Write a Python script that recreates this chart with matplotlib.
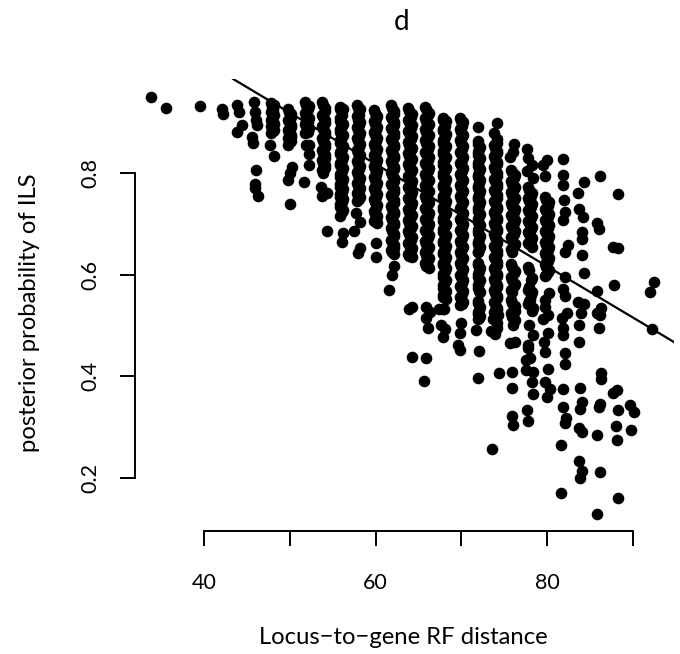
import matplotlib
matplotlib.use('Agg')
import matplotlib.pyplot as plt

# dense vertical strips (RF distance is even, points are slightly jittered)
strip_x = [47.8, 48.2, 49.8, 50.1, 51.8, 52.2, 53.8, 54.1,
           55.8, 56.2, 57.8, 58.2, 59.8, 60.2, 61.8, 62.2,
           63.8, 64.2, 65.8, 66.2, 67.8, 68.2, 69.8, 70.2,
           71.9, 72.2, 73.8, 74.2, 75.8, 76.2, 77.8, 78.2, 79.8, 80.2,
           47.9, 48.1, 49.9, 50.1, 51.9, 52.1, 53.9, 54.1,
           55.9, 56.1, 57.9, 58.1, 59.9, 60.1, 61.9, 62.1,
           63.9, 64.1, 65.9, 66.1, 67.9, 68.1, 69.9, 70.1,
           71.9, 72.1, 73.9, 74.1, 75.9, 76.1, 77.9, 78.1, 79.9, 80.1]
strip_y = [
    [.938, .921, .905, .892, .879],
    [.934, .914, .897, .885],
    [.926, .905, .884, .868, .856],
    [.916, .895, .875, .862],
    [.939, .918, .897, .879],
    [.932, .908, .888, .855, .838, .816],
    [.940, .915, .892, .868, .846, .825, .805],
    [.928, .904, .880, .857, .835, .815],
    [.930, .908, .886, .864, .842, .820, .798, .778, .758, .738, .716],
    [.926, .897, .875, .853, .831, .809, .788, .768, .748, .728],
    [.933, .912, .890, .868, .846, .824, .802, .780, .760, .745],
    [.926, .901, .879, .857, .835, .813, .791, .770, .752],
    [.924, .902, .880, .858, .836, .814, .792, .770, .748, .726, .706],
    [.913, .891, .869, .847, .825, .803, .781, .759, .737, .716, .702],
    [.933, .911, .889, .867, .845, .823, .801, .779, .757, .735, .713, .691, .669, .648],
    [.922, .900, .878, .856, .834, .812, .790, .768, .746, .724, .702, .680, .658, .640],
    [.927, .905, .883, .861, .839, .817, .795, .773, .751, .729, .707, .685, .663, .641],
    [.916, .894, .872, .850, .828, .806, .784, .762, .740, .718, .696, .674, .652, .634],
    [.930, .908, .886, .864, .842, .820, .798, .776, .754, .732, .710, .688, .666, .644, .622],
    [.919, .897, .875, .853, .831, .809, .787, .765, .743, .721, .699, .677, .655, .633, .612],
    [.909, .887, .865, .843, .821, .799, .777, .755, .733, .711, .689, .667, .645, .623, .601, .579, .560],
    [.903, .876, .854, .832, .810, .788, .766, .744, .722, .700, .678, .656, .634, .612, .590, .568, .551],
    [.908, .886, .864, .842, .820, .798, .776, .754, .732, .710, .688, .666, .644, .622, .600, .578, .556, .540],
    [.900, .875, .853, .831, .809, .787, .765, .743, .721, .699, .677, .655, .633, .611, .589, .567, .546],
    [.891, .863, .841, .819, .797, .775, .753, .731, .709, .687, .665, .644, .622, .601, .579, .549, .527, .512],
    [.852, .830, .808, .786, .764, .742, .720, .698, .676, .654, .612, .590, .566, .536, .518],
    [.878, .855, .833, .811, .789, .767, .745, .723, .701, .679, .657, .635, .613, .591, .569, .547, .526],
    [.898, .866, .844, .822, .800, .778, .756, .734, .712, .690, .668, .646, .624, .602, .580, .558, .535],
    [.806, .784, .762, .740, .718, .696, .674, .650, .620, .595, .570, .550, .525],
    [.796, .773, .751, .729, .707, .685, .661, .608, .582, .539, .510],
    [.772, .750, .728, .706, .684, .662, .615, .570, .543],
    [.760, .738, .716, .694, .672, .655, .593, .566, .528],
    [.752, .730, .708, .686, .664, .642, .620, .597, .550, .537],
    [.742, .720, .698, .676, .654, .632, .610, .563],
    [.930, .908, .887],
    [.924, .903, .882],
    [.921, .900, .879, .860],
    [.911, .890, .870],
    [.934, .912, .892],
    [.925, .901, .880],
    [.934, .910, .886, .862, .840, .820, .800],
    [.922, .898, .874, .851, .830, .810],
    [.925, .903, .881, .859, .837, .815, .793, .773, .753, .733],
    [.914, .892, .870, .848, .826, .804, .783, .763, .743, .723],
    [.927, .905, .884, .862, .840, .818, .796, .775, .755],
    [.914, .895, .873, .851, .829, .807, .785, .765, .748],
    [.918, .896, .874, .852, .830, .808, .786, .764, .742, .720],
    [.907, .885, .863, .841, .819, .797, .775, .753, .731, .710],
    [.928, .906, .884, .862, .840, .818, .796, .774, .752, .730, .708, .686, .664, .645],
    [.917, .895, .873, .851, .829, .807, .785, .763, .741, .719, .697, .675, .653],
    [.922, .900, .878, .856, .834, .812, .790, .768, .746, .724, .702, .680, .658, .637],
    [.911, .889, .867, .845, .823, .801, .779, .757, .735, .713, .691, .669, .647],
    [.925, .903, .881, .859, .837, .815, .793, .771, .749, .727, .705, .683, .661, .639, .617],
    [.914, .892, .870, .848, .826, .804, .782, .760, .738, .716, .694, .672, .650, .628],
    [.904, .882, .860, .838, .816, .794, .772, .750, .728, .706, .684, .662, .640, .618, .596, .574, .555],
    [.893, .871, .849, .827, .805, .783, .761, .739, .717, .695, .673, .651, .629, .607, .585, .563],
    [.903, .881, .859, .837, .815, .793, .771, .749, .727, .705, .683, .661, .639, .617, .595, .573, .551],
    [.892, .870, .848, .826, .804, .782, .760, .738, .716, .694, .672, .650, .628, .606, .584, .562, .542],
    [.858, .836, .814, .792, .770, .748, .726, .704, .682, .660, .645, .618, .596, .574, .544, .522],
    [.847, .825, .803, .781, .759, .737, .715, .693, .671, .650, .607, .585, .568, .530, .515],
    [.850, .828, .806, .784, .762, .740, .718, .696, .674, .652, .630, .608, .586, .564, .542, .528],
    [.860, .839, .817, .795, .773, .751, .729, .707, .685, .663, .641, .619, .597, .575, .553, .530],
    [.801, .779, .757, .735, .713, .691, .669, .645, .615, .590, .565, .545, .520],
    [.790, .768, .746, .724, .702, .680, .656, .603, .577, .533],
    [.767, .745, .723, .701, .679, .660, .610, .575, .548],
    [.755, .733, .711, .689, .667, .590, .560],
    [.747, .725, .703, .681, .659, .637, .615, .600],
    [.736, .714, .692, .670, .648, .626, .605],
]

# separate points around the edges of the cloud
scatter_x = [33.8, 35.6, 39.5, 42.1, 42.2, 43.8, 44.1, 44.4, 43.9, 45.8, 45.9, 46.1, 46.2, 45.6, 45.7,
             46.1, 45.9, 46.0, 46.3, 47.7, 48.2, 50.3, 50.0, 49.8, 50.0, 51.9, 51.6, 53.6, 53.7, 54.3,
             54.3, 56.2, 56.1, 57.7, 58.2, 57.5, 58.2, 57.9, 60.1, 60.0, 62.1, 61.9, 61.6, 64.2, 63.9,
             65.9, 66.3, 65.9, 66.1, 67.8, 67.4, 68.0, 67.6, 68.1, 67.8, 70.0, 69.8, 71.7, 69.6, 69.8,
             72.1, 64.3, 65.9, 65.7, 71.9, 74.4, 75.9, 75.9, 73.5, 74.1, 73.9, 75.7, 76.2, 77.9, 78.3,
             77.8, 77.8, 78.0, 77.5, 77.5, 78.3, 78.2, 78.4, 80.1, 79.6, 79.8, 80.1, 79.8, 80.3, 80.0,
             77.6, 77.8, 75.9, 76.0, 73.6, 81.9, 81.9, 82.1, 82.1, 81.9, 81.9, 82.2, 82.1, 81.6, 81.6,
             83.7, 83.7, 83.9, 83.6, 84.3, 81.7, 82.3, 83.8, 84.0, 83.8, 83.7, 84.1, 85.8, 83.7, 84.1,
             83.8, 86.2, 88.2, 85.8, 86.3, 86.3, 87.7, 88.1, 86.1, 86.0, 88.2, 88.0, 88.1, 89.7, 90.1,
             89.8, 86.0, 85.8, 86.3, 86.1, 92.2, 92.0, 92.4, 76.1, 76.0, 75.7, 77.7, 77.8, 78.2, 77.6,
             78.3, 80.0, 79.5, 79.8, 81.8, 81.8, 81.8, 82.0, 82.1, 81.8, 82.4, 82.1, 82.1, 81.9, 82.1,
             84.3, 83.6, 83.7, 84.2, 84.0, 84.0, 84.1, 84.3, 86.2, 85.8, 86.0, 85.8, 88.2, 87.7, 88.3,
             87.8, 73.7, 74.1, 74.3, 75.9, 76.3, 76.0, 78.0, 78.4, 79.5, 80.1]
scatter_y = [.949, .927, .931, .925, .917, .934, .921, .894, .881, .939, .921, .904, .894, .871, .860,
             .806, .778, .770, .755, .855, .833, .812, .799, .787, .738, .855, .783, .773, .755, .761,
             .686, .681, .665, .721, .704, .686, .652, .642, .662, .635, .616, .599, .570, .537, .532,
             .537, .527, .514, .494, .533, .533, .533, .500, .492, .478, .505, .486, .490, .461, .452,
             .450, .438, .435, .391, .397, .406, .409, .377, .488, .494, .484, .466, .467, .501, .481,
             .461, .455, .435, .431, .412, .409, .389, .365, .486, .468, .447, .415, .389, .374, .360,
             .333, .312, .322, .304, .257, .494, .482, .445, .424, .374, .339, .317, .307, .264, .171,
             .467, .500, .524, .547, .542, .514, .524, .377, .350, .335, .299, .291, .285, .234, .213,
             .199, .212, .160, .129, .406, .394, .366, .373, .346, .340, .333, .301, .274, .343, .330,
             .294, .494, .524, .534, .520, .492, .565, .586, .858, .842, .832, .847, .829, .816, .803,
             .791, .826, .816, .794, .828, .796, .776, .747, .724, .707, .658, .644, .595, .572, .557,
             .782, .761, .730, .714, .684, .670, .639, .604, .794, .701, .689, .568, .759, .655, .652,
             .579, .512, .505, .520, .517, .528, .500, .550, .535, .512, .520]

# fitted line, end points
fit_x = [43.4, 94.8]
fit_y = [.985, .467]

x_ticks = [40, 50, 60, 70, 80, 90]
x_labels = ['40', '', '60', '', '80', '']
y_ticks = [0.2, 0.4, 0.6, 0.8]

plt.rcParams['font.family'] = 'Lato'

fig = plt.figure(figsize=(6.8, 6.54), dpi=100)
ax = fig.add_axes([135 / 680, 1 - 531 / 654, (674 - 135) / 680, (531 - 79) / 654])

for x, ys in zip(strip_x, strip_y):
    ax.scatter([x] * len(ys), ys, s=70, c='black', linewidths=0)
ax.scatter(scatter_x, scatter_y, s=70, c='black', linewidths=0)
ax.plot(fit_x, fit_y, color='black', lw=1.6)

ax.set_xlim(31.96, 94.78)
ax.set_ylim(0.0953, 0.985)

ax.spines['top'].set_visible(False)
ax.spines['right'].set_visible(False)
ax.spines['bottom'].set_bounds(40, 90)
ax.spines['left'].set_bounds(0.2, 0.8)
ax.spines['bottom'].set_linewidth(1.4)
ax.spines['left'].set_linewidth(1.4)

ax.set_xticks(x_ticks)
ax.set_xticklabels(x_labels)
ax.set_yticks(y_ticks)
ax.tick_params(axis='x', length=11, width=1.4, pad=19, labelsize=15.5)
ax.tick_params(axis='y', length=11, width=1.4, pad=14, labelsize=15.5)
plt.setp(ax.get_yticklabels(), rotation=90, va='center')

fig.text(402 / 680, 1 - 22 / 654, 'd', ha='center', va='center', fontsize=20)
fig.text(403 / 680, 1 - 638 / 654, 'Locus\u2212to\u2212gene RF distance', ha='center', va='center', fontsize=17.2)
fig.text(30 / 680, 1 - 313 / 654, 'posterior probability of ILS', rotation=90, ha='center', va='center', fontsize=17.2)

fig.savefig('out.png', dpi=100)
